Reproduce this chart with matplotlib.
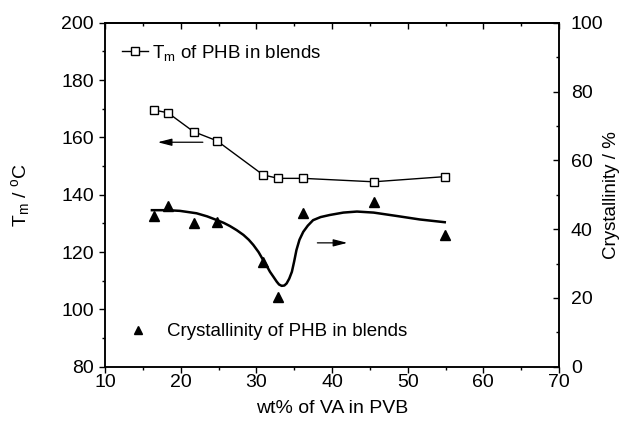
import matplotlib
matplotlib.use('Agg')
import matplotlib.pyplot as plt
from matplotlib.ticker import MultipleLocator
from matplotlib.lines import Line2D

plt.rcParams['font.family'] = ['Liberation Sans', 'DejaVu Sans']
plt.rcParams['mathtext.default'] = 'regular'

# wt% of VA in PVB
va_wt = [16.5, 18.3, 21.7, 24.8, 30.9, 32.9, 36.2, 45.5, 54.9]
# melting point of PHB in blends (left axis)
tm_phb = [169.5, 168.6, 162.0, 158.8, 146.9, 145.7, 145.7, 144.5, 146.3]
# crystallinity of PHB in blends (right axis)
cryst_phb = [43.8, 46.7, 41.9, 42.2, 30.5, 20.3, 44.6, 47.8, 38.3]

# smooth guide curve through the crystallinity points
fit_x = [16.2, 18.3, 19.9, 22.1, 23.5, 24.8, 25.7, 26.5, 27.4, 28.3, 29.0,
         29.6, 30.3, 30.9, 31.4, 31.8, 32.3, 32.7, 33.0, 33.35, 33.7, 34.0,
         34.35, 34.7, 35.0, 35.3, 35.7, 36.2, 36.8, 37.5, 38.5, 39.7, 41.5,
         43.3, 45.5, 48.6, 51.6, 54.9]
fit_y = [45.5, 45.5, 45.3, 44.6, 43.7, 42.6, 41.8, 40.9, 39.7, 38.3, 36.9,
         35.4, 33.3, 31.0, 29.2, 27.6, 26.0, 24.7, 23.9, 23.5, 23.6, 24.2,
         25.6, 27.6, 30.6, 33.9, 36.9, 39.2, 41.0, 42.6, 43.5, 44.1, 44.8,
         45.1, 44.8, 43.8, 42.8, 42.0]

fig = plt.figure(figsize=(6.21, 4.26), dpi=100)
fig.subplots_adjust(left=105 / 621, right=559 / 621,
                    top=1 - 22.7 / 426, bottom=1 - 366.7 / 426)
ax = fig.add_subplot(111)
ax2 = ax.twinx()

ax.plot(va_wt, tm_phb, color='black', lw=1.0, marker='s', ms=5.5,
        mfc='white', mec='black', mew=1.0)
ax2.plot(fit_x, fit_y, color='black', lw=1.8, solid_joinstyle='round')
ax2.plot(va_wt, cryst_phb, ls='none', marker='^', ms=7.5, color='black')

ax.set_xlim(10, 70)
ax.set_ylim(80, 200)
ax2.set_ylim(0, 100)

ax.xaxis.set_major_locator(MultipleLocator(10))
ax.xaxis.set_minor_locator(MultipleLocator(5))
ax.yaxis.set_major_locator(MultipleLocator(20))
ax.yaxis.set_minor_locator(MultipleLocator(10))
ax2.yaxis.set_major_locator(MultipleLocator(20))
ax2.yaxis.set_minor_locator(MultipleLocator(10))

for a in (ax, ax2):
    for s in a.spines.values():
        s.set_linewidth(1.1)

ax.tick_params(axis='both', which='major', direction='out', length=4.5,
               width=1.0, labelsize=14)
ax.tick_params(axis='both', which='minor', direction='out', length=2.5,
               width=1.0)
ax.tick_params(axis='x', which='both', pad=1)
ax.tick_params(axis='y', which='both', pad=3.5)
ax2.tick_params(axis='y', which='major', direction='in', length=4.5,
                width=1.0, labelsize=14, pad=8.5)
ax2.tick_params(axis='y', which='minor', direction='in', length=2.5,
                width=1.0)

top = ax.secondary_xaxis('top')
top.xaxis.set_major_locator(MultipleLocator(10))
top.xaxis.set_minor_locator(MultipleLocator(5))
top.tick_params(axis='x', which='major', direction='in', length=4.5,
                width=1.0, labeltop=False)
top.tick_params(axis='x', which='minor', direction='in', length=2.5,
                width=1.0)
top.spines['top'].set_linewidth(1.1)

ax.set_xlabel('wt% of VA in PVB', fontsize=14, labelpad=6)
ax.set_ylabel('T$_m$ / $^o$C', fontsize=14, labelpad=21)
ax2.set_ylabel('Crystallinity / %', fontsize=13.5, labelpad=0)

# direction arrows: which axis each series belongs to
ax.annotate('', xy=(16.6, 158.3), xytext=(23.3, 158.3),
            arrowprops=dict(arrowstyle='-|>,head_length=0.7,head_width=0.18',
                            lw=0.9, color='black', mutation_scale=12))
ax2.annotate('', xy=(42.4, 36.0), xytext=(37.7, 36.0),
             arrowprops=dict(arrowstyle='-|>,head_length=0.7,head_width=0.18',
                             lw=0.9, color='black', mutation_scale=12))

tm_handle = Line2D([], [], color='black', lw=1.0, marker='s', ms=5.5,
                   mfc='white', mec='black', mew=1.0)
cr_handle = Line2D([], [], ls='none', marker='^', ms=6, color='black')

leg1 = ax.legend([tm_handle], ['T$_m$ of PHB in blends'], loc='center left',
                 bbox_to_anchor=(0.037, 0.913), frameon=False, fontsize=13.5,
                 borderaxespad=0, borderpad=0, handlelength=1.4,
                 handletextpad=0.2)
leg2 = ax2.legend([cr_handle], ['Crystallinity of PHB in blends'],
                  loc='center left', bbox_to_anchor=(0.053, 0.102),
                  frameon=False, fontsize=13.5, borderaxespad=0, borderpad=0,
                  handlelength=1.0, handletextpad=1.0, numpoints=1)

fig.savefig('out.png', dpi=100)
